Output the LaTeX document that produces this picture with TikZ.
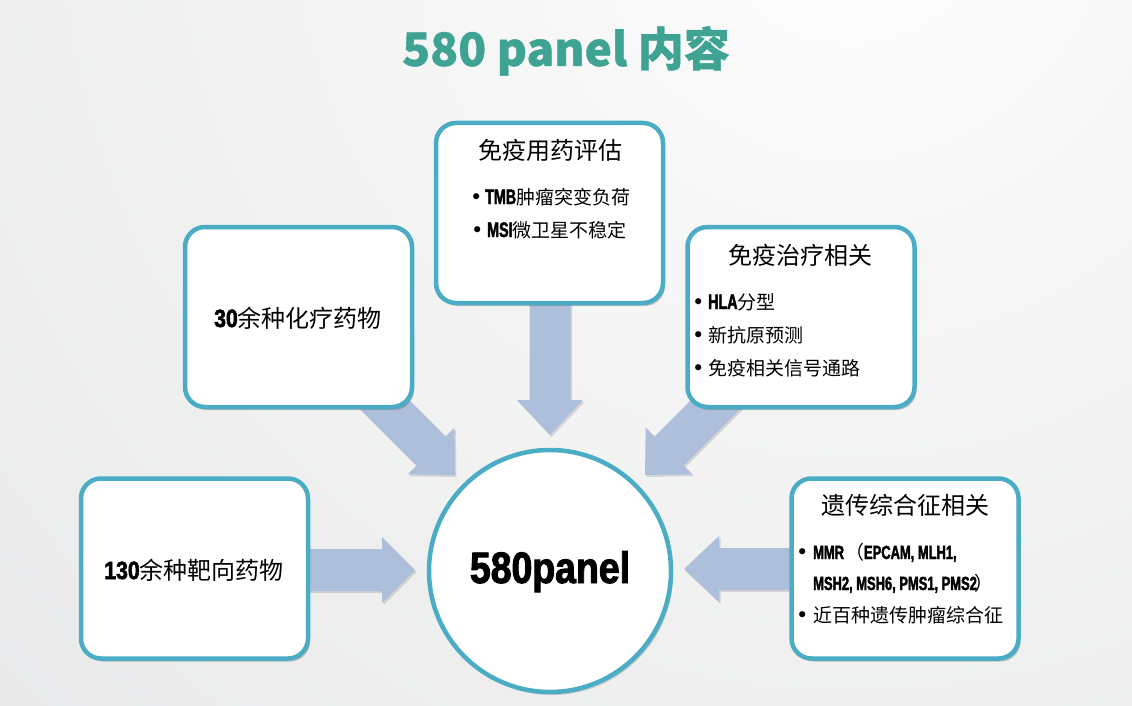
\documentclass[tikz,border=0pt]{standalone}
\usepackage{fontspec}
\usetikzlibrary{shadows}
\setmainfont{Noto Sans CJK SC}
\newfontfamily\dejavu{DejaVu Sans}
\newfontfamily\impA[FakeStretch=0.85,FakeBold=2.2]{Liberation Sans Bold}
\newfontfamily\impB[FakeStretch=0.68,FakeBold=2]{Liberation Sans Bold}
\newcommand\setfs[1]{\fontsize{#1pt}{#1pt}\selectfont}
\newcommand\bul[1]{\makebox[#1pt][l]{\dejavu\setfs{21}•}}
\definecolor{boxblue}{HTML}{4BACC6}
\definecolor{arrowblue}{HTML}{AEBFDC}
\definecolor{titleteal}{HTML}{3FA394}
\definecolor{bglight}{HTML}{FDFDFD}
\definecolor{bgdark}{HTML}{D3D4D6}
\tikzset{
  box/.style={draw=boxblue, line width=4.5pt, fill=white, rounded corners=20pt,
    minimum width=227pt, minimum height=180pt, inner sep=0pt,
    drop shadow={shadow xshift=2pt, shadow yshift=-3pt, opacity=0.3, fill=black!70}},
  hub/.style={draw=boxblue, line width=4.5pt, fill=white, circle, minimum size=242pt, inner sep=0pt,
    drop shadow={shadow xshift=2pt, shadow yshift=-3pt, opacity=0.25, fill=black!70}},
  blockarrow/.style={fill=arrowblue,
    drop shadow={shadow xshift=1.5pt, shadow yshift=-2pt, opacity=0.22, fill=black!60}},
  txt/.style={inner sep=0pt, text=black},
}
\begin{document}
\begin{tikzpicture}[x=1pt,y=-1pt]
\useasboundingbox (0,0) rectangle (1132,706);
\begin{scope}
\clip (0,0) rectangle (1132,706);
\shade[inner color=bglight, outer color=bgdark] (850,-100) circle (2400pt);
\end{scope}

% title
\node[txt, anchor=base, text=titleteal] (title) at (566,66) {\setfs{46}\bfseries\addfontfeature{FakeBold=0.8}580 panel 内容};

% block arrows
\fill[blockarrow] (529.5,290) -- (570.5,290) -- (570.5,400) -- (583,400) -- (550,435) -- (517,400) -- (529.5,400) -- cycle;
\fill[blockarrow] (364.5,355.5) -- (445.5,436.5) -- (454.3,427.7) -- (455,475) -- (407.7,474.3) -- (416.5,465.5) -- (335.5,384.5) -- cycle;
\fill[blockarrow] (735.5,355.5) -- (654.5,436.5) -- (645.7,427.7) -- (645,475) -- (692.3,474.3) -- (683.5,465.5) -- (764.5,384.5) -- cycle;
\fill[blockarrow] (290,549) -- (382,549) -- (382,537) -- (415,570) -- (382,603) -- (382,591) -- (290,591) -- cycle;
\fill[blockarrow] (810,548) -- (719,548) -- (719,536) -- (684,569) -- (719,602) -- (719,590) -- (810,590) -- cycle;

% boxes
\node[box] (imm) at (549.5,213) {};
\node[box] (chemo) at (298.5,317) {};
\node[box] (immt) at (801,317) {};
\node[box] (target) at (194.5,568.5) {};
\node[box] (hered) at (905,568.5) {};
\node[hub] (center) at (550,571) {};

% texts
\node[txt, anchor=base] (immT) at (550,160) {\setfs{24}免疫用药评估};
\node[txt, anchor=base west] (imm1) at (470,204) {\setfs{19}\bul{15}{\impB\setfs{21}TMB}肿瘤突变负荷};
\node[txt, anchor=base west] (imm2) at (471,237) {\setfs{19}\bul{16}{\impB\setfs{21}MSI}微卫星不稳定};

\node[txt, anchor=base] (chemoT) at (298,327) {\setfs{24}{\impA\setfs{25}30}余种化疗药物};

\node[txt, anchor=base] (immtT) at (800.5,264) {\setfs{24}免疫治疗相关};
\node[txt, anchor=base west] (immt1) at (692,309) {\setfs{19}\bul{16}{\impB\setfs{21}HLA}分型};
\node[txt, anchor=base west] (immt2) at (692,342) {\setfs{19}\bul{16}新抗原预测};
\node[txt, anchor=base west] (immt3) at (692,375) {\setfs{19}\bul{16}免疫相关信号通路};

\node[txt, anchor=base] (targetT) at (194,579) {\setfs{24}{\impA\setfs{25}130}余种靶向药物};

\node[txt, anchor=base] (heredT) at (905,514) {\setfs{24}遗传综合征相关};
\node[txt, anchor=base west] (hered1) at (796,559) {\setfs{19}\bul{17}{\impB\setfs{19}MMR}\hspace{1pt}（{\impB\setfs{19}EPCAM, MLH1,}};
\node[txt, anchor=base west] (hered2) at (813,590) {\setfs{19}{\impB\setfs{19}MSH2, MSH6, PMS1, PMS2}\hspace{-2pt}）};
\node[txt, anchor=base west] (hered3) at (796,622) {\setfs{19}\bul{17}近百种遗传肿瘤综合征};

\node[txt, anchor=base] (centerT) at (550,583) {\impA\setfs{44}580panel};
\end{tikzpicture}
\end{document}
